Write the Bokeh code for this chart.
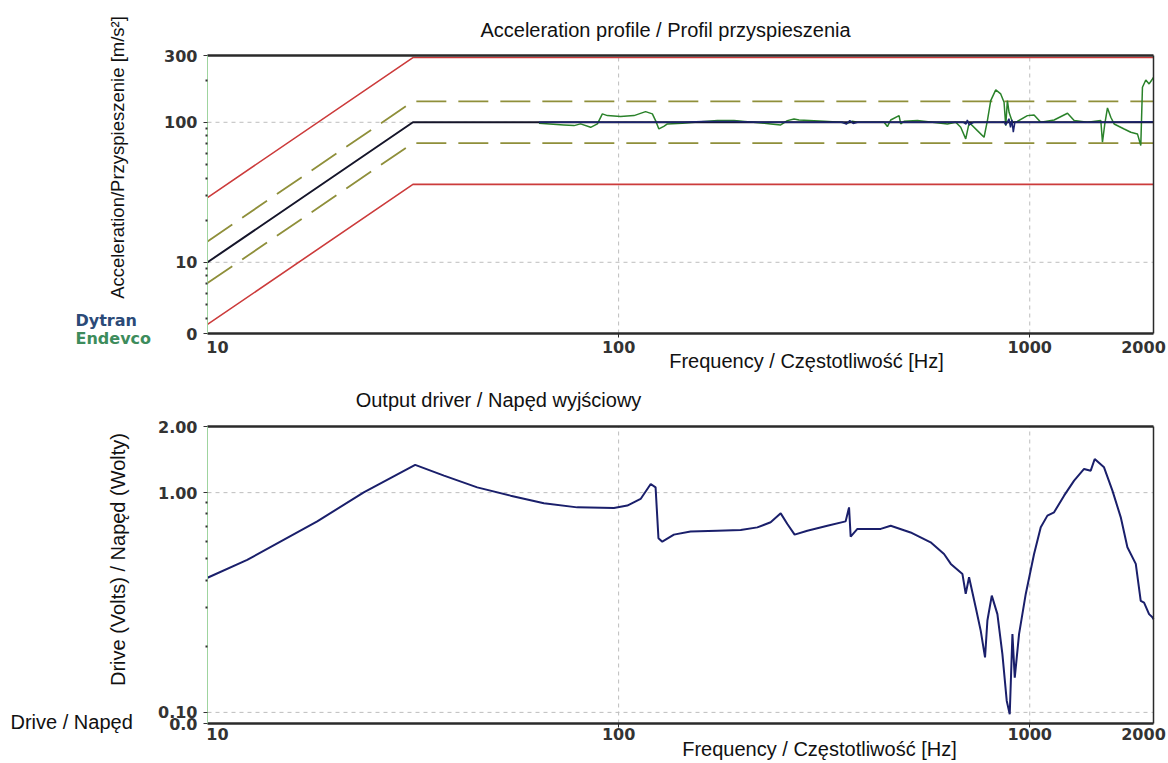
from math import pi, log10
from bokeh.plotting import figure
from bokeh.models import FixedTicker, Label, LogAxis, Range1d
from bokeh.layouts import column
from bokeh.embed import file_html
from bokeh.resources import INLINE

# ---------------- data: acceleration profile ----------------
profile_freq = [10, 31.6, 2000]
profile_ref = [10, 100, 100]
abort_hi = [29, 290, 290]
abort_lo = [3.6, 36, 36]
alarm_hi = [14.1, 141, 141]
alarm_lo = [7.1, 71, 71]

endevco_freq = [64.0, 73.6, 77.9, 80.8, 85.5, 88.8, 91.3, 93.9, 101.1, 109.0, 116.3,
                120.8, 123.0, 125.3, 128.8, 131.4, 142.9, 173.8, 190.8, 234.4, 247.9,
                257.3, 267.1, 274.7, 315.9, 346.8, 360.0, 370.3, 380.8, 442.2, 450.6,
                459.0, 481.0, 485.5, 494.6, 533.0, 630.5, 660.7, 679.4, 698.7, 710.0,
                718.5, 745.9, 774.3, 788.9, 803.7, 826.6, 850.0, 866.0, 874.2, 882.4,
                890.6, 907.5, 924.6, 986.9, 1024.5, 1063.6, 1146.3, 1235.4, 1282.4,
                1381.6, 1489.0, 1502.8, 1522.6, 1545.5, 1574.6, 1604.3, 1696.7, 1761.2,
                1828.1, 1862.6, 1880.0, 1915.5, 1951.6, 1988.4, 2000.0]
endevco_acc = [98.4, 95.8, 94.7, 97.4, 92.1, 97.4, 114.8, 111.6, 109.8, 111.6, 119.2,
               114.8, 102.8, 89.7, 93.6, 97.4, 98.4, 102.8, 102.8, 97.4, 95.8,
               102.8, 105.7, 103.9, 101.7, 100.0, 98.4, 101.7, 100.0, 100.0, 93.2,
               103.9, 111.6, 97.3, 101.7, 102.8, 97.3, 100.0, 92.1, 76.1, 95.0,
               97.3, 87.2, 78.2, 102.8, 142.9, 170.4, 159.4, 139.0, 94.7, 142.9,
               117.9, 100.0, 100.0, 111.6, 112.9, 100.0, 103.9, 116.0, 102.8,
               100.0, 102.8, 72.0, 97.3, 126.6, 108.6, 97.3, 89.6, 84.9,
               82.6, 68.2, 177.9, 200.6, 187.9, 203.7, 209.0]

dytran_freq = [64, 100, 142.9, 160, 190.8, 220, 350, 358, 365, 372, 381, 640, 690, 700,
               705, 712, 730, 760, 850, 866, 874, 882, 890, 898, 905, 912, 920, 960,
               1100, 1500, 2000]
dytran_acc = [100, 100, 100, 101.5, 101.5, 100, 100, 97, 103, 98, 100, 100, 100, 97,
              104, 96, 100, 100, 100, 101, 96, 100, 106, 92, 104, 85, 100, 100,
              100, 100, 101]

# ---------------- data: drive output ----------------
drive_freq = [10.0, 12.49, 18.49, 23.99, 32.0, 37.6, 45.3, 54.6, 65.8, 79.3, 97.4, 105.0,
              113.1, 119.7, 123.0, 125.0, 127.7, 136.3, 149.6, 173.8, 198.1, 217.5,
              234.3, 247.9, 257.3, 268.0, 287.7, 321.9, 356.6, 363.5, 366.8, 380.9,
              434.0, 459.0, 513.0, 574.0, 618.8, 642.7, 686.0, 698.6, 711.9, 739.0,
              760.0, 778.5, 788.9, 808.5, 834.3, 858.0, 879.0, 894.0, 907.6, 919.5,
              941.9, 977.9, 1024.5, 1063.6, 1104.0, 1146.0, 1212.0, 1282.0, 1355.6,
              1407.0, 1439.0, 1516.0, 1589.0, 1665.0, 1728.0, 1811.0, 1862.0, 1897.0,
              1951.0, 1988.0, 2000.0]
drive_volts = [0.41, 0.494, 0.740, 1.003, 1.337, 1.195, 1.057, 0.969, 0.894, 0.857, 0.852,
               0.873, 0.936, 1.095, 1.057, 0.62, 0.598, 0.644, 0.665, 0.671, 0.676, 0.695,
               0.733, 0.805, 0.720, 0.644, 0.671, 0.707, 0.740, 0.857, 0.631, 0.684,
               0.684, 0.707, 0.659, 0.594, 0.526, 0.474, 0.426, 0.346, 0.412, 0.300,
               0.235, 0.178, 0.262, 0.340, 0.280, 0.184, 0.113, 0.098, 0.227, 0.144,
               0.227, 0.346, 0.526, 0.695, 0.786, 0.814, 0.969, 1.134, 1.282,
               1.259, 1.423, 1.304, 1.021, 0.772, 0.564, 0.474, 0.322, 0.316,
               0.280, 0.271, 0.265]

# ---------------- axes / ticks ----------------
freq_span = (10, 2000)
freq_ticks = [100, 1000]
freq_edge = {10: "10", 2000: "2000"}
freq_grid = [100, 1000]

acc_span = (3.1, 300)
acc_ticks = [3.1, 10, 100, 300]
acc_labels = {3.1: "0", 10: "10", 100: "100", 300: "300"}
acc_minor = [4, 5, 6, 7, 8, 9, 20, 30, 40, 50, 60, 70, 80, 90, 200]
acc_grid = [10, 100]

drive_span = (0.089, 2.0)
drive_ticks = [0.089, 0.1, 1, 2]
drive_labels = {0.089: "0.0", 0.1: "0.10", 1: "1.00", 2: "2.00"}
drive_minor = [0.2, 0.3, 0.4, 0.5, 0.6, 0.7, 0.8, 0.9]
drive_grid = [0.1, 1]

TXT_FONT = "Liberation Sans"
TXT_SIZE = "20px"
TICK_FONT = "DejaVu Sans"
TICK_SIZE = "16px"
TICK_COLOR = "#333333"
FRAME = "#2a2a2a"
W = 1168
BOX_LEFT, BOX_RIGHT = 207, 1153   # chart box in canvas pixels


def log_range_x(lo, hi, px_lo, px_hi, width):
    k = (log10(hi) - log10(lo)) / (px_hi - px_lo)
    return 10 ** (log10(lo) - px_lo * k), 10 ** (log10(hi) + (width - px_hi) * k)


def log_range_y(lo, hi, px_lo, px_hi, height):
    # px measured from the top of the canvas; px_lo is where `lo` sits (lower on screen)
    k = (log10(hi) - log10(lo)) / (px_lo - px_hi)
    return 10 ** (log10(lo) - (height - px_lo) * k), 10 ** (log10(hi) + px_hi * k)


def make_chart(height, yspan, box_top, box_bottom, yticks, ylabels, yminor, ygrid,
               x_standoff):
    xr = Range1d(*log_range_x(freq_span[0], freq_span[1], BOX_LEFT, BOX_RIGHT, W))
    yr = Range1d(*log_range_y(yspan[0], yspan[1], box_bottom, box_top, height))
    p = figure(width=W, height=height, x_axis_type="log", y_axis_type="log",
               x_range=xr, y_range=yr, x_axis_location=None, y_axis_location=None,
               output_backend="svg", toolbar_location=None, title_location=None,
               min_border=0)
    p.outline_line_color = None
    p.background_fill_color = "white"
    p.border_fill_color = "white"
    p.xgrid.visible = False
    p.ygrid.visible = False

    # dashed grid inside the chart box
    p.segment(x0=freq_grid, y0=[yspan[0]] * len(freq_grid), x1=freq_grid,
              y1=[yspan[1]] * len(freq_grid), line_color="#bdbdbd", line_dash="4 4",
              line_width=1)
    p.segment(x0=[freq_span[0]] * len(ygrid), y0=ygrid, x1=[freq_span[1]] * len(ygrid),
              y1=ygrid, line_color="#bdbdbd", line_dash="4 4", line_width=1)

    xa = LogAxis(fixed_location=yspan[0], bounds=freq_span,
                 ticker=FixedTicker(ticks=freq_ticks, minor_ticks=[]),
                 major_label_overrides={100: "100", 1000: "1000"},
                 axis_line_color=FRAME, axis_line_width=2.5,
                 major_tick_line_color=FRAME, major_tick_out=4, major_tick_in=0,
                 minor_tick_line_color=None, major_label_standoff=x_standoff,
                 major_label_text_font=TICK_FONT, major_label_text_font_style="bold",
                 major_label_text_font_size=TICK_SIZE, major_label_text_color=TICK_COLOR)
    p.add_layout(xa, "below")
    ya = LogAxis(fixed_location=freq_span[0], bounds=yspan,
                 ticker=FixedTicker(ticks=yticks, minor_ticks=yminor),
                 major_label_overrides=ylabels,
                 axis_line_color="#9fd49f", axis_line_width=1,
                 major_tick_line_color=TICK_COLOR, major_tick_out=4, major_tick_in=0,
                 minor_tick_line_color=TICK_COLOR, minor_tick_line_width=2,
                 minor_tick_out=2, minor_tick_in=0, major_label_standoff=6,
                 major_label_text_font=TICK_FONT, major_label_text_font_style="bold",
                 major_label_text_font_size=TICK_SIZE, major_label_text_color=TICK_COLOR)
    p.add_layout(ya, "left")
    top = LogAxis(fixed_location=yspan[1], bounds=freq_span,
                  ticker=FixedTicker(ticks=[], minor_ticks=[]),
                  axis_line_color=FRAME, axis_line_width=2.5,
                  major_tick_line_color=None, minor_tick_line_color=None)
    p.add_layout(top, "above")
    right = LogAxis(fixed_location=freq_span[1], bounds=yspan,
                    ticker=FixedTicker(ticks=[], minor_ticks=[]),
                    axis_line_color=FRAME, axis_line_width=1.5,
                    major_tick_line_color=None, minor_tick_line_color=None)
    p.add_layout(right, "right")
    return p


def text(p, s, x, y, align="center", baseline="middle", angle=0, color="#111111",
         font=TXT_FONT, size=TXT_SIZE, fstyle="normal"):
    p.add_layout(Label(x=x, y=y, x_units="screen", y_units="screen", text=s,
                       text_align=align, text_baseline=baseline, angle=angle,
                       text_font=font, text_font_size=size, text_color=color,
                       text_font_style=fstyle))


def edge_labels(p, sy):
    for fx, off in ((10, 10), (2000, -10)):
        p.add_layout(Label(x=fx, y=sy, x_units="data", y_units="screen", x_offset=off,
                           text=freq_edge[fx], text_align="center", text_baseline="top",
                           text_font=TICK_FONT, text_font_style="bold",
                           text_font_size=TICK_SIZE, text_color=TICK_COLOR))


# ---------------- top chart (canvas rows 0..380) ----------------
H1 = 380
p1 = make_chart(H1, acc_span, 55, 333, acc_ticks, acc_labels, acc_minor, acc_grid, 3)
p1.line(profile_freq, abort_hi, line_color="#cc3b3b", line_width=1.6)
p1.line(profile_freq, abort_lo, line_color="#cc3b3b", line_width=1.6)
p1.line(profile_freq, alarm_hi, line_color="#8f8f3a", line_width=1.8, line_dash="30 12")
p1.line(profile_freq, alarm_lo, line_color="#8f8f3a", line_width=1.8, line_dash="30 12")
p1.line(endevco_freq, endevco_acc, line_color="#2a822a", line_width=1.5)
p1.line(profile_freq, profile_ref, line_color="#15152a", line_width=2)
p1.line(dytran_freq, dytran_acc, line_color="#1c2470", line_width=1.5)

text(p1, "Acceleration profile / Profil przyspieszenia", 665, H1 - 29)
text(p1, "Frequency / Częstotliwość [Hz]", 806, H1 - 360)
text(p1, "Acceleration/Przyspieszenie [m/s²]", 117, H1 - 157, angle=pi / 2,
     size="18.5px")
text(p1, "Dytran", 75, H1 - 320, align="left", color="#2b4a78", font="DejaVu Sans",
     size="16px", fstyle="bold")
text(p1, "Endevco", 75, H1 - 338, align="left", color="#3d8c5c", font="DejaVu Sans",
     size="16px", fstyle="bold")
edge_labels(p1, H1 - 340)

# ---------------- bottom chart (canvas rows 380..763) ----------------
H2 = 383
p2 = make_chart(H2, drive_span, 426 - H1, 723 - H1, drive_ticks, drive_labels,
                drive_minor, drive_grid, 0)
p2.line(drive_freq, drive_volts, line_color="#1a1f6b", line_width=2)

text(p2, "Output driver / Napęd wyjściowy", 498, 763 - 399)
text(p2, "Frequency / Częstotliwość [Hz]", 819, 763 - 748)
text(p2, "Drive (Volts) / Napęd (Wolty)", 117, 763 - 559, angle=pi / 2)
text(p2, "Drive / Napęd", 10, 763 - 721, align="left")
edge_labels(p2, 763 - 727)

layout = column(p1, p2, spacing=0)
open("out.html", "w").write(file_html(layout, INLINE))
